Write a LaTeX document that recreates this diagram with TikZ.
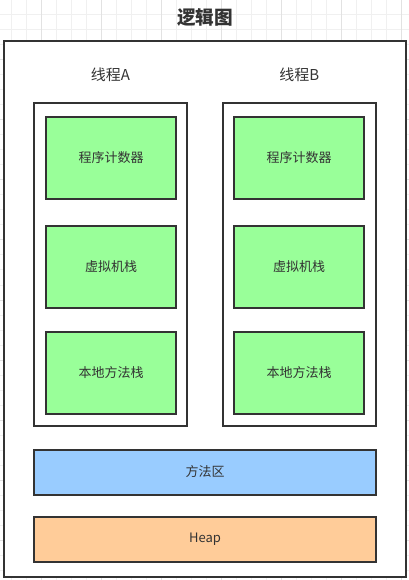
\documentclass[tikz,border=0pt]{standalone}
\usepackage{fontspec}
\setmainfont{Noto Sans CJK SC}
\usetikzlibrary{positioning}
\definecolor{ink}{HTML}{333333}
\definecolor{gridlt}{HTML}{F0F0F0}
\definecolor{griddk}{HTML}{E2E2E2}
\definecolor{pcgreen}{HTML}{99FF99}
\definecolor{areablue}{HTML}{99CCFF}
\definecolor{heaporange}{HTML}{FFCC99}

\begin{document}
\begin{tikzpicture}[
      x=0.75pt, y=-0.75pt,
      every node/.style={font=\fontsize{9.75pt}{11pt}\selectfont, text=ink},
      box/.style={draw=ink, line width=1.5pt, align=center, inner sep=0pt},
      frame/.style={box, fill=white, minimum width=301.5pt, minimum height=402pt},
      thread/.style={box, fill=white, minimum width=114.75pt, minimum height=242.25pt},
      part/.style={box, fill=pcgreen, minimum width=97.5pt, minimum height=61.5pt},
      shared/.style={box, minimum width=256.5pt, minimum height=33.75pt},
      heading/.style={font=\fontsize{11.25pt}{13pt}\selectfont}
    ]
    \useasboundingbox (0,0) rectangle (409,580);
    % background grid
    \foreach \gx in {0,...,26}
      \draw[gridlt, line width=0.75pt] (11.7+15*\gx,0) -- (11.7+15*\gx,580);
    \foreach \gy in {0,...,38}
      \draw[gridlt, line width=0.75pt] (0,15*\gy) -- (409,15*\gy);
    \foreach \gx in {0,...,6}
      \draw[griddk, line width=0.75pt] (41.7+60*\gx,0) -- (41.7+60*\gx,580);
    \foreach \gy in {0,...,9}
      \draw[griddk, line width=0.75pt] (0,60*\gy) -- (409,60*\gy);

    \node[font=\bfseries\fontsize{14pt}{16pt}\selectfont] (title) at (205,17) {逻辑图};
    \node[frame] (jvm) at (205.3,309) {};

    \node[heading] (nameA) at (110.5,75) {线程A};
    \node[heading] (nameB) at (299.3,75) {线程B};

    \node[thread] (threadA) at (110.5,264.5) {};
    \node[thread] (threadB) at (299.3,264.5) {};

    \node[part] (pcA) at (111,158) {程序计数器};
    \node[part, below=18.75pt of pcA] (stackA)  {虚拟机栈};
    \node[part, below=16.5pt of stackA] (nativeA) {本地方法栈};

    \node[part] (pcB) at (299,158) {程序计数器};
    \node[part, below=18.75pt of pcB] (stackB)  {虚拟机栈};
    \node[part, below=16.5pt of stackB] (nativeB) {本地方法栈};

    \node[shared, fill=areablue] (method) at (205,472) {方法区};
    \node[shared, fill=heaporange, below=15.5pt of method] (heap) {Heap};
  \end{tikzpicture}
\end{document}
